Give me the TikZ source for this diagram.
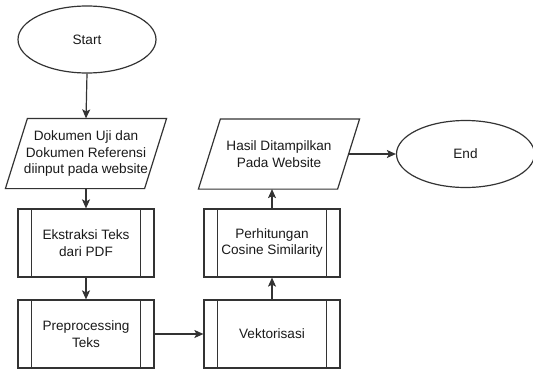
\documentclass[tikz,border=0pt]{standalone}
\usepackage{fontspec}
\setmainfont{Liberation Sans}
\usetikzlibrary{arrows.meta,shapes.geometric,calc}
\definecolor{linec}{HTML}{333333}
\definecolor{textc}{HTML}{1A1A1A}
\tikzset{
  base/.style={line width=1.2pt, draw=linec, text=textc, align=center,
    font=\fontsize{13.6}{16.3}\selectfont, inner sep=0pt},
  term/.style={base, ellipse, minimum width=138pt, minimum height=67pt},
  iobox/.style={base, draw=none, rectangle, minimum width=138pt, minimum height=69pt},
  procbox/.style={base, rectangle, minimum width=136pt, minimum height=68pt,
    path picture={
      \draw[linec, line width=1.2pt]
        ([xshift=13.5pt]path picture bounding box.north west) -- ([xshift=13.5pt]path picture bounding box.south west)
        ([xshift=-13.5pt]path picture bounding box.north east) -- ([xshift=-13.5pt]path picture bounding box.south east);
    }},
  conn/.style={line width=1.2pt, draw=linec, -{Stealth[length=9pt,width=8pt,inset=2pt]}},
  para/.style={line width=1.2pt, draw=linec, line join=miter}
}
\begin{document}
\begin{tikzpicture}[x=1pt,y=1pt]
\useasboundingbox (0,0) rectangle (533,-370);
\node[term] (start) at (87,-39.5) {Start};
\node[iobox] (p1) at (86,-153.5) {Dokumen Uji dan\\Dokumen Referensi\\diinput pada website};
\node[procbox] (b1) at (86,-243) {Ekstraksi Teks\\dari PDF};
\node[procbox] (b2) at (86,-334) {Preprocessing\\Teks};
\node[procbox] (vek) at (272,-334) {Vektorisasi};
\node[procbox] (per) at (272,-243) {Perhitungan\\Cosine Similarity};
\node[iobox] (p2) at (279,-154) {Hasil Ditampilkan\\Pada Website};
\node[term] (end) at (465.5,-154) {End};
\draw[para] ($(p1.north west)+(11,0)$) -- ($(p1.north east)+(11,0)$) -- ($(p1.south east)+(-11,0)$) -- ($(p1.south west)+(-11,0)$) -- cycle;
\draw[para] ($(p2.north west)+(11,0)$) -- ($(p2.north east)+(11,0)$) -- ($(p2.south east)+(-11,0)$) -- ($(p2.south west)+(-11,0)$) -- cycle;
\draw[conn] (start.south) -- (p1.north);
\draw[conn] (p1.south) -- (b1.north);
\draw[conn] (b1.south) -- (b2.north);
\draw[conn] (b2.east) -- (vek.west);
\draw[conn] (vek.north) -- (per.south);
\draw[conn] (per.north) -- (per.north |- p2.south);
\draw[conn] (p2.east) -- (end.west);
\end{tikzpicture}
\end{document}
